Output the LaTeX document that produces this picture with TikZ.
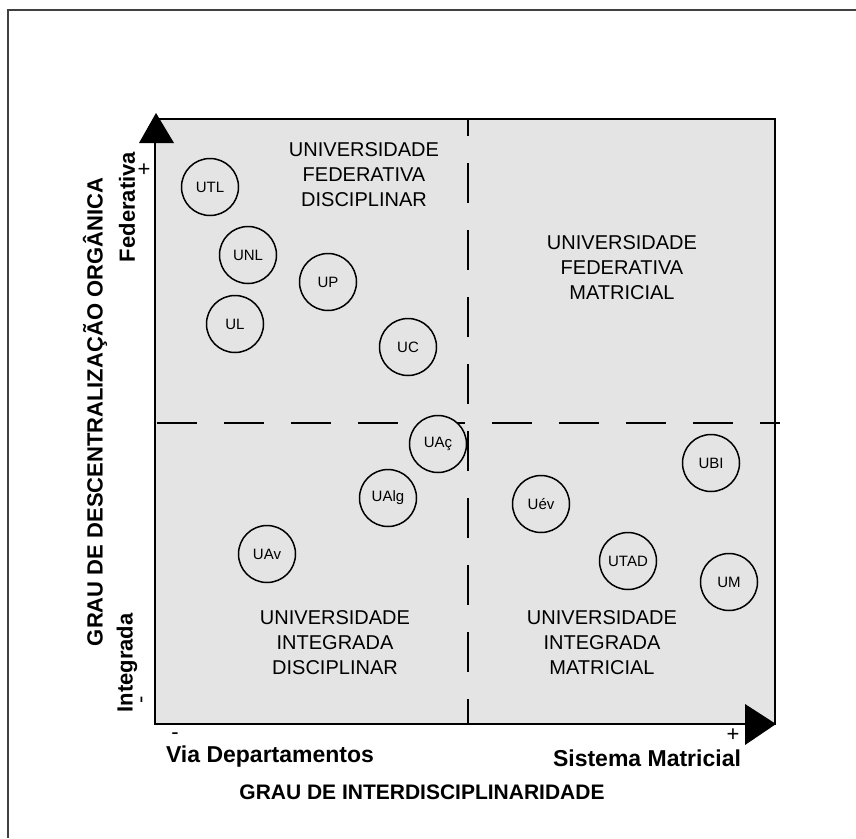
\documentclass[tikz,border=0pt]{standalone}
\usepackage{fontspec}
\setmainfont{Liberation Sans}
\definecolor{boxgray}{RGB}{228,228,228}
\begin{document}
\begin{tikzpicture}[x=1pt,y=-1pt,
  uni/.style={circle,draw,line width=1.5pt,fill=boxgray,minimum size=57pt,inner sep=0pt,font=\fontsize{15}{15}\selectfont},
  quad/.style={align=center,font=\fontsize{20}{25}\selectfont},
  axlab/.style={font=\bfseries\fontsize{22}{22}\selectfont},
  sign/.style={font=\fontsize{22}{22}\selectfont},
  dashline/.style={line width=1.3pt,dash pattern=on 40pt off 27pt}]
\useasboundingbox (0,0) rectangle (856,838);
% outer frame (cropped)
\draw[line width=2pt,black!75] (856,10) -- (8,10) -- (8,838);
% grey field
\fill[boxgray] (155,119) rectangle (775,724);
% dashed quadrant lines
\draw[dashline,dash phase=23pt] (468,119) -- (468,724);
\draw[dashline] (157,423) -- (780,423);
% frame of the field (axes)
\draw[line width=1.5pt] (155,119) rectangle (775,724);
% arrow heads
\fill (156,113) -- (174,143) -- (139,143) -- cycle;
\fill (776,724) -- (745,704) -- (745,745) -- cycle;
% quadrant labels
\node[quad] (qtl) at (364,175) {UNIVERSIDADE\\FEDERATIVA\\DISCIPLINAR};
\node[quad] (qtr) at (622,268) {UNIVERSIDADE\\FEDERATIVA\\MATRICIAL};
\node[quad] (qbl) at (335,643) {UNIVERSIDADE\\INTEGRADA\\DISCIPLINAR};
\node[quad] (qbr) at (602,643) {UNIVERSIDADE\\INTEGRADA\\MATRICIAL};
% universities
\node[uni] (utl) at (210,187) {UTL};
\node[uni] (unl) at (248,255) {UNL};
\node[uni] (up) at (328,282) {UP};
\node[uni] (ul) at (235,324) {UL};
\node[uni] (uc) at (408,347) {UC};
\node[uni] (uac) at (438,444) {UAç};
\node[uni] (ualg) at (388,498) {UAlg};
\node[uni] (uav) at (267,554) {UAv};
\node[uni] (uev) at (541,504) {Uév};
\node[uni] (utad) at (628,561) {UTAD};
\node[uni] (ubi) at (711,463) {UBI};
\node[uni] (um) at (729,582) {UM};
% vertical axis labels
\node[axlab,rotate=90] (ylab) at (95,412) {GRAU DE DESCENTRALIZAÇÃO ORGÂNICA};
\node[axlab,rotate=90] (yfed) at (127,207) {Federativa};
\node[axlab,rotate=90] (yint) at (127,663) {Integrada};
\node[sign] (yplus) at (144,170) {+};
\node[sign,rotate=90] (yminus) at (144,700) {-};
% horizontal axis labels
\node[axlab,font=\bfseries\fontsize{23}{23}\selectfont] (xvia) at (270,757) {Via Departamentos};
\node[axlab,font=\bfseries\fontsize{23}{23}\selectfont] (xmat) at (647,758) {Sistema Matricial};
\node[sign] (xminus) at (175,736) {-};
\node[sign] (xplus) at (733,735) {+};
\node[axlab,font=\bfseries\fontsize{21}{21}\selectfont] (xlab) at (422,792) {GRAU DE INTERDISCIPLINARIDADE};
\end{tikzpicture}
\end{document}
